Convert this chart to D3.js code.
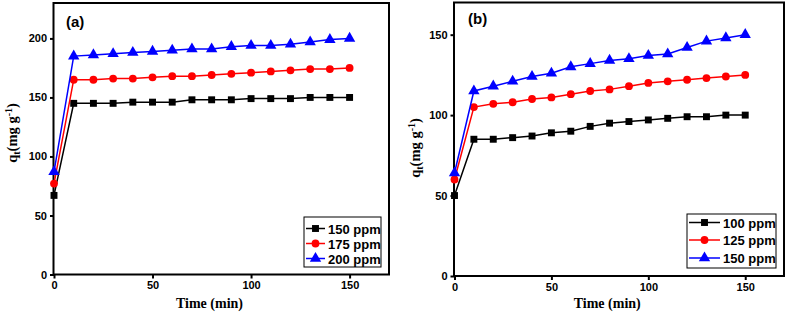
<!DOCTYPE html>
<html>
<head>
<meta charset="utf-8">
<script src="https://cdn.jsdelivr.net/npm/d3@7/dist/d3.min.js"></script>
<style>
  body { margin: 0; background: #fff; }
  svg { display: block; }
  .tick text { font-family: "Liberation Sans", Arial, sans-serif; font-weight: bold; font-size: 11px; fill: #000; }
</style>
</head>
<body>
<svg id="chart" width="787" height="315"></svg>
<script>
const times = [0, 10, 20, 30, 40, 50, 60, 70, 80, 90, 100, 110, 120, 130, 140, 150];

// panel (a)
const a150 = [67, 145, 145, 145, 146, 146, 146, 148, 148, 148, 149, 149, 149, 150, 150, 150];
const a175 = [77, 165, 165, 166, 166, 167, 168, 168, 169, 170, 171, 172, 173, 174, 174, 175];
const a200 = [87, 185, 186, 187, 188, 189, 190, 191, 191, 193, 194, 194, 195, 197, 199, 200];
const aLabels = ['150 ppm', '175 ppm', '200 ppm'];
const aTicksY = [0, 50, 100, 150, 200];

// panel (b)
const b100 = [50, 85, 85, 86, 87, 89, 90, 93, 95, 96, 97, 98, 99, 99, 100, 100];
const b125 = [60, 105, 107, 108, 110, 111, 113, 115, 116, 118, 120, 121, 122, 123, 124, 125];
const b150 = [64, 115, 118, 121, 124, 126, 130, 132, 134, 135, 137, 138, 142, 146, 148, 150];
const bLabels = ['100 ppm', '125 ppm', '150 ppm'];
const bTicksY = [0, 50, 100, 150];

const ticksX = [0, 50, 100, 150];
const colors = ['#000000', '#ff0000', '#0000ff'];
const shapes = [d3.symbolSquare, d3.symbolCircle, d3.symbolTriangle];
const sizes = [48, 48, 56];

const svg = d3.select('#chart');

function drawPanel(cfg) {
  const g = svg.append('g');
  const x = d3.scaleLinear().domain([0, 170]).range(cfg.xr);
  const y = d3.scaleLinear().domain([0, cfg.ymax]).range(cfg.yr);

  // frame
  g.append('rect')
    .attr('x', cfg.xr[0] - 0.5).attr('y', cfg.yr[1])
    .attr('width', cfg.xr[1] - cfg.xr[0] + 0.5).attr('height', cfg.yr[0] - cfg.yr[1])
    .attr('fill', 'none').attr('stroke', '#000').attr('stroke-width', 2);

  const xAxis = g.append('g')
    .attr('transform', `translate(0,${cfg.yr[0]})`)
    .call(d3.axisBottom(x).tickValues(ticksX).tickSize(4).tickPadding(3));
  const yAxis = g.append('g')
    .attr('transform', `translate(${cfg.xr[0]},0)`)
    .call(d3.axisLeft(y).tickValues(cfg.ticksY).tickSize(4).tickPadding(3));
  [xAxis, yAxis].forEach(ax => {
    ax.select('.domain').remove();
    ax.selectAll('.tick line').attr('stroke', '#000').attr('stroke-width', 2);
  });

  // series
  const line = d3.line().x((d, i) => x(times[i])).y(d => y(d));
  cfg.series.forEach((s, k) => {
    g.append('path').datum(s)
      .attr('fill', 'none').attr('stroke', colors[k]).attr('stroke-width', 1.5)
      .attr('d', line);
    g.selectAll(null).data(s).enter().append('path')
      .attr('d', d3.symbol().type(shapes[k]).size(sizes[k]))
      .attr('transform', (d, i) => `translate(${x(times[i])},${y(d)})`)
      .attr('fill', colors[k]);
  });

  // panel label
  g.append('text')
    .attr('x', cfg.label[0]).attr('y', cfg.label[1])
    .attr('font-family', '"Liberation Sans", Arial, sans-serif')
    .attr('font-weight', 'bold').attr('font-size', 15)
    .text(cfg.name);

  // x title
  g.append('text')
    .attr('x', (cfg.xr[0] + cfg.xr[1]) / 2 - 12).attr('y', 308)
    .attr('text-anchor', 'middle')
    .attr('font-family', '"Liberation Serif", "Times New Roman", serif')
    .attr('font-weight', 'bold').attr('font-size', 14)
    .text('Time (min)');

  // y title
  const yt = g.append('text')
    .attr('transform', `translate(${cfg.ylab[0]},${cfg.ylab[1]}) rotate(-90)`)
    .attr('text-anchor', 'middle')
    .attr('font-family', '"Liberation Serif", "Times New Roman", serif')
    .attr('font-weight', 'bold').attr('font-size', 14.5);
  yt.append('tspan').text('q');
  yt.append('tspan').attr('font-size', 10).attr('dy', 3).text('t');
  yt.append('tspan').attr('dy', -3).text('(mg g');
  yt.append('tspan').attr('font-size', 10).attr('dy', -5).text('-1');
  yt.append('tspan').attr('dy', 5).text(')');

  // legend
  const L = cfg.legend;
  g.append('rect')
    .attr('x', L.x).attr('y', L.y).attr('width', L.w).attr('height', L.h)
    .attr('fill', '#fff').attr('stroke', '#000').attr('stroke-width', 1);
  cfg.labels.forEach((lab, k) => {
    const ry = L.y + L.rows[k];
    g.append('line')
      .attr('x1', L.x + 2).attr('x2', L.x + L.lineW)
      .attr('y1', ry).attr('y2', ry)
      .attr('stroke', colors[k]).attr('stroke-width', 1.5);
    g.append('path')
      .attr('d', d3.symbol().type(shapes[k]).size(sizes[k]))
      .attr('transform', `translate(${L.x + 2 + (L.lineW - 2) / 2},${ry})`)
      .attr('fill', colors[k]);
    g.append('text')
      .attr('x', L.x + L.lineW + 3).attr('y', ry + 5)
      .attr('font-family', '"Liberation Sans", Arial, sans-serif')
      .attr('font-weight', 'bold').attr('font-size', 13)
      .text(lab);
  });
}

drawPanel({
  name: '(a)', xr: [54, 389], yr: [274.5, 3], ymax: 230, ticksY: aTicksY,
  series: [a150, a175, a200], labels: aLabels,
  label: [66, 27], ylab: [17, 133],
  legend: { x: 304, y: 217, w: 77, h: 50, rows: [11.5, 26.5, 41.5], lineW: 21 }
});

drawPanel({
  name: '(b)', xr: [454.5, 784], yr: [276, 2.5], ymax: 170, ticksY: bTicksY,
  series: [b100, b125, b150], labels: bLabels,
  legend: { x: 687, y: 214, w: 89, h: 54, rows: [8.5, 26, 44], lineW: 33 },
  label: [468, 24], ylab: [420, 148]
});
</script>
</body>
</html>
